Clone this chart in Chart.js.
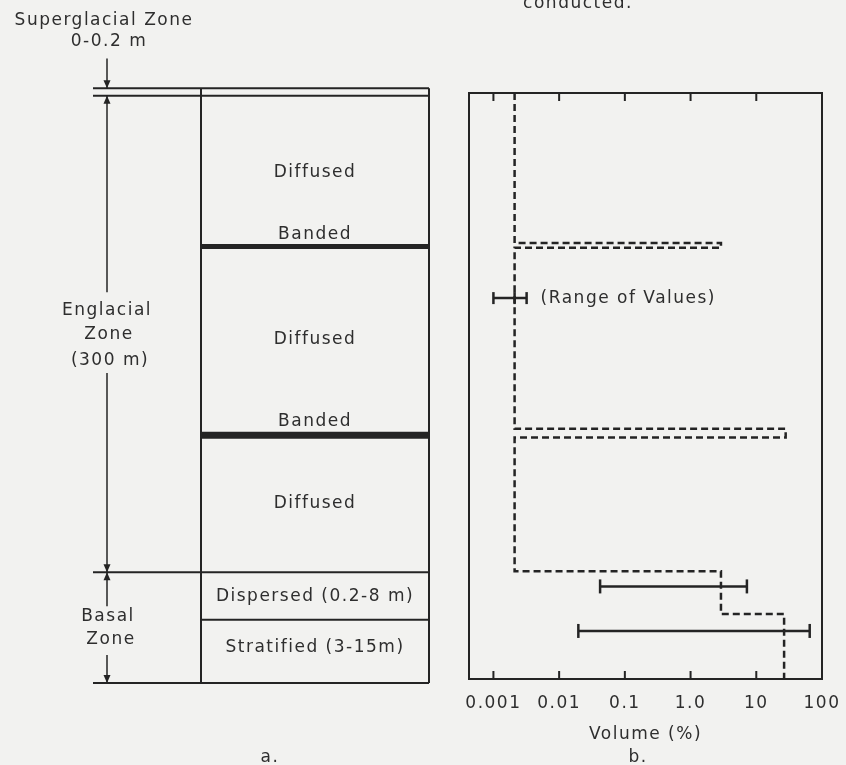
<!DOCTYPE html>
<html>
<head>
<meta charset="utf-8">
<script src="https://cdn.jsdelivr.net/npm/chart.js@4.4.1/dist/chart.umd.min.js"></script>
<style>
    html, body { margin: 0; padding: 0; background: #f2f2f0; }
    canvas { display: block; }
</style>
</head>
<body>
<canvas id="figure" width="846" height="765"></canvas>
<script>
// b. debris volume (%) against schematic depth (0 = top of ice, 100 = bed)
const stepVolume = [0.0021, 0.0021, 2.9, 2.9, 0.0021, 0.0021, 28, 28, 0.0021, 0.0021, 2.9, 2.9, 26.5, 26.5];
const stepDepth = [0, 25.6, 25.6, 26.4, 26.4, 57.3, 57.3, 58.8, 58.8, 81.6, 81.6, 88.9, 88.9, 100];
const rangeLow = [0.042, 0.0196];
const rangeHigh = [7.2, 65];
const rangeDepth = [84.2, 91.8];
const keyRange = [0.001, 0.0021, 0.0032];
const keyDepth = 35;
const tickValues = [0.001, 0.01, 0.1, 1, 10, 100];
const tickLabels = ['0.001', '0.01', '0.1', '1.0', '10', '100'];

// a. layers of the ice column, same depth units
const layerNames = ['Diffused', 'Banded', 'Diffused', 'Banded', 'Diffused', 'Dispersed (0.2-8 m)', 'Stratified (3-15m)'];
const layerLabelDepth = [13.5, 24.2, 42.0, 56.0, 70.1, 86.0, 94.7];
const bandDepth = [26.2, 58.4];
const zoneEdges = [-0.8, 0.45, 81.8, 100.7];   // superglacial top/base, englacial base, bed
const dispersedBase = 89.9;
const zoneLabels = ['Superglacial Zone', '0-0.2 m', 'Englacial', 'Zone', '(300 m)', 'Basal', 'Zone'];
const zoneLabelDepth = [-12.4, -8.8, 37.2, 41.3, 45.6, 89.4, 93.3];

const ink = '#242424';
const textInk = '#2e2e2e';
const paper = '#f2f2f0';
const family = '"DejaVu Sans", sans-serif';

const toPoints = (xs, ys) => xs.map((x, i) => ({ x, y: ys[i] }));

const errorBar = (lo, hi, depth) => ({
    data: [{ x: lo, y: depth }, { x: hi, y: depth }],
    showLine: true,
    borderColor: ink,
    borderWidth: 2.5,
    pointStyle: 'line',
    pointRotation: 90,
    pointRadius: 7,
    pointBorderWidth: 2.5,
    pointBorderColor: ink,
});

const drawArrow = (ctx, x, tip, dir) => {
    // dir = 1 points down, -1 points up
    ctx.beginPath();
    ctx.moveTo(x, tip);
    ctx.lineTo(x - 3.5, tip - dir * 8);
    ctx.lineTo(x + 3.5, tip - dir * 8);
    ctx.closePath();
    ctx.fill();
};

const panelA = (chart) => {
    const { ctx } = chart;
    const py = (v) => chart.scales.y.getPixelForValue(v);
    const dimX = 107, outerX = 93, colL = 201, colR = 429;

    ctx.save();
    ctx.strokeStyle = ink;
    ctx.fillStyle = ink;

    const hline = (x0, x1, y) => { ctx.beginPath(); ctx.moveTo(x0, y); ctx.lineTo(x1, y); ctx.stroke(); };
    const vline = (x, y0, y1) => { ctx.beginPath(); ctx.moveTo(x, y0); ctx.lineTo(x, y1); ctx.stroke(); };

    ctx.lineWidth = 2;
    zoneEdges.forEach(d => hline(outerX, colR, py(d)));
    hline(colL, colR, py(dispersedBase));
    vline(colL, py(zoneEdges[0]), py(zoneEdges[3]));
    vline(colR, py(zoneEdges[0]), py(zoneEdges[3]));

    ctx.lineWidth = 5;
    hline(colL, colR, py(bandDepth[0]));
    ctx.lineWidth = 7;
    hline(colL, colR, py(bandDepth[1]));

    // dimension line with arrowheads
    ctx.lineWidth = 1.5;
    vline(dimX, py(-5.9), py(zoneEdges[0]));
    drawArrow(ctx, dimX, py(zoneEdges[0]), 1);
    vline(dimX, py(zoneEdges[1]), py(34.0));
    drawArrow(ctx, dimX, py(zoneEdges[1]), -1);
    vline(dimX, py(47.8), py(zoneEdges[2]));
    drawArrow(ctx, dimX, py(zoneEdges[2]), 1);
    vline(dimX, py(zoneEdges[2]), py(87.6));
    drawArrow(ctx, dimX, py(zoneEdges[2]), -1);
    vline(dimX, py(95.9), py(zoneEdges[3]));
    drawArrow(ctx, dimX, py(zoneEdges[3]), 1);

    ctx.fillStyle = textInk;
    ctx.font = '17px ' + family;
    ctx.textAlign = 'center';
    ctx.textBaseline = 'middle';
    layerNames.forEach((name, i) => ctx.fillText(name, 315, py(layerLabelDepth[i])));
    const zoneX = [104, 109, 107, 109, 110, 108, 111];
    zoneLabels.forEach((name, i) => ctx.fillText(name, zoneX[i], py(zoneLabelDepth[i])));
    ctx.fillText('a.', 270, 758);
    ctx.restore();
};

const figurePlugin = {
    id: 'figure',
    beforeDraw(chart) {
        const { ctx, width, height } = chart;
        ctx.fillStyle = paper;
        ctx.fillRect(0, 0, width, height);
        ctx.letterSpacing = '1.5px';
        panelA(chart);
    },
    afterDatasetsDraw(chart) {
        const { ctx, chartArea: a } = chart;
        const xs = chart.scales.x;
        ctx.save();
        ctx.strokeStyle = ink;
        ctx.lineWidth = 2;
        ctx.strokeRect(a.left, a.top, a.right - a.left, a.bottom - a.top);
        // inward ticks on top and bottom edges
        tickValues.slice(0, -1).forEach(v => {
            const x = xs.getPixelForValue(v);
            ctx.beginPath();
            ctx.moveTo(x, a.top); ctx.lineTo(x, a.top + 8);
            ctx.moveTo(x, a.bottom); ctx.lineTo(x, a.bottom - 8);
            ctx.stroke();
        });
        ctx.fillStyle = textInk;
        ctx.font = '17px ' + family;
        ctx.textBaseline = 'middle';
        ctx.textAlign = 'left';
        const keyX = xs.getPixelForValue(keyRange[2]) + 14;
        ctx.fillText('(Range of Values)', keyX, chart.scales.y.getPixelForValue(keyDepth));
        ctx.textAlign = 'center';
        ctx.fillText('b.', 638, 758);
        ctx.textBaseline = 'alphabetic';
        ctx.fillText('conducted.', 578, 8);
        ctx.restore();
    },
};

new Chart(document.getElementById('figure'), {
    type: 'scatter',
    data: {
        datasets: [
            {
                data: toPoints(stepVolume, stepDepth),
                showLine: true,
                borderColor: ink,
                borderWidth: 2.5,
                borderDash: [7, 4],
                pointRadius: 0,
                tension: 0,
            },
            errorBar(rangeLow[0], rangeHigh[0], rangeDepth[0]),
            errorBar(rangeLow[1], rangeHigh[1], rangeDepth[1]),
            {
                data: keyRange.map(x => ({ x, y: keyDepth })),
                showLine: true,
                borderColor: ink,
                borderWidth: 2.5,
                pointStyle: 'line',
                pointRotation: 90,
                pointRadius: 6,
                pointBorderWidth: 2.5,
                pointBorderColor: ink,
            },
        ]
    },
    options: {
        responsive: false,
        animation: false,
        devicePixelRatio: 1,
        layout: { padding: { left: 469, right: 24, top: 93, bottom: 20 } },
        scales: {
            x: {
                type: 'logarithmic',
                min: 0.000425,
                max: 100,
                afterBuildTicks: (s) => { s.ticks = tickValues.map(v => ({ value: v })); },
                afterFit: (s) => { s.height = 66; s.paddingLeft = 0; s.paddingRight = 0; },
                grid: { display: false, drawTicks: false },
                border: { display: false },
                ticks: {
                    autoSkip: false,
                    maxRotation: 0,
                    padding: 14,
                    color: textInk,
                    font: { family: family, size: 17 },
                    callback: (value, index) => tickLabels[index],
                },
                title: {
                    display: true,
                    text: 'Volume (%)',
                    color: textInk,
                    font: { family: family, size: 17 },
                    padding: { top: 0, bottom: 0 },
                },
            },
            y: { type: 'linear', reverse: true, min: 0, max: 100, display: false }
        },
        plugins: {
            legend: { display: false },
            tooltip: { enabled: false },
        },
    },
    plugins: [figurePlugin],
});
</script>
</body>
</html>
